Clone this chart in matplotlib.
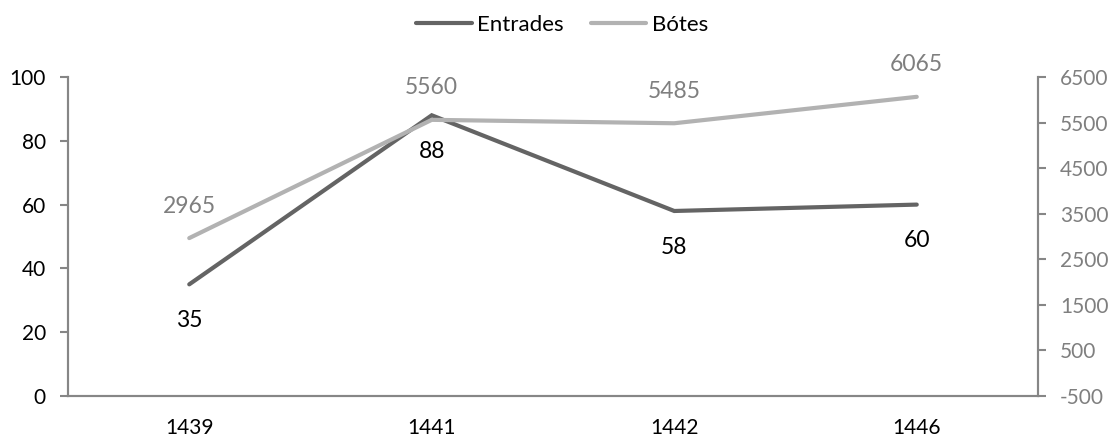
import matplotlib
matplotlib.use("Agg")
import matplotlib.pyplot as plt

categories = ["1439", "1441", "1442", "1446"]
entrades = [35, 88, 58, 60]
botes = [2965, 5560, 5485, 6065]

plt.rcParams['font.family'] = ['Lato', 'DejaVu Sans']
plt.rcParams['axes.unicode_minus'] = False

dark = "#646464"
light = "#b2b2b2"
spine_c = "#868686"

fig = plt.figure(figsize=(11.11, 4.37), dpi=100)
ax = fig.add_axes([68/1111, 1-396/437, (1038-68)/1111, (396-77)/437])
ax2 = ax.twinx()

x = list(range(len(categories)))
l1, = ax.plot(x, entrades, color=dark, lw=3.0, solid_capstyle='round', solid_joinstyle='miter', label="Entrades", zorder=3)
l2, = ax2.plot(x, botes, color=light, lw=3.0, solid_capstyle='round', solid_joinstyle='miter', label="Bótes", zorder=3)

ax.set_xlim(-0.5, 3.5)
ax.set_ylim(0, 100)
ax2.set_ylim(-500, 6500)
ax.set_yticks(range(0, 101, 20))
ax2.set_yticks(range(-500, 6501, 1000))
ax.set_xticks(x)
ax.set_xticklabels(categories)

for a in (ax, ax2):
    for s in a.spines.values():
        s.set_color(spine_c)
        s.set_linewidth(1.5)
    a.spines['top'].set_visible(False)

ax.tick_params(axis='x', length=0, pad=16, labelsize=15, colors='black')
ax.tick_params(axis='y', length=6, width=1.5, color=spine_c, pad=10, labelsize=15, labelcolor='black')
ax2.tick_params(axis='y', length=6, width=1.5, color=spine_c, pad=10, labelsize=15, labelcolor='#7f7f7f')

for xi, v in zip(x, entrades):
    ax.annotate(str(v), (xi, v), xytext=(0, -26), textcoords='offset points',
                ha='center', va='center', fontsize=16.5, color='black', zorder=5)
for xi, v in zip(x, botes):
    ax2.annotate(str(v), (xi, v), xytext=(0, 23), textcoords='offset points',
                 ha='center', va='center', fontsize=16.5, color='#7f7f7f', zorder=5)

fig.legend([l1, l2], ["Entrades", "Bótes"], loc='center', bbox_to_anchor=(562/1111, 1-25/437),
           ncol=2, frameon=False, fontsize=16, handlelength=2.5, handletextpad=0.25,
           columnspacing=1.2)

fig.savefig("out.png", dpi=100)
